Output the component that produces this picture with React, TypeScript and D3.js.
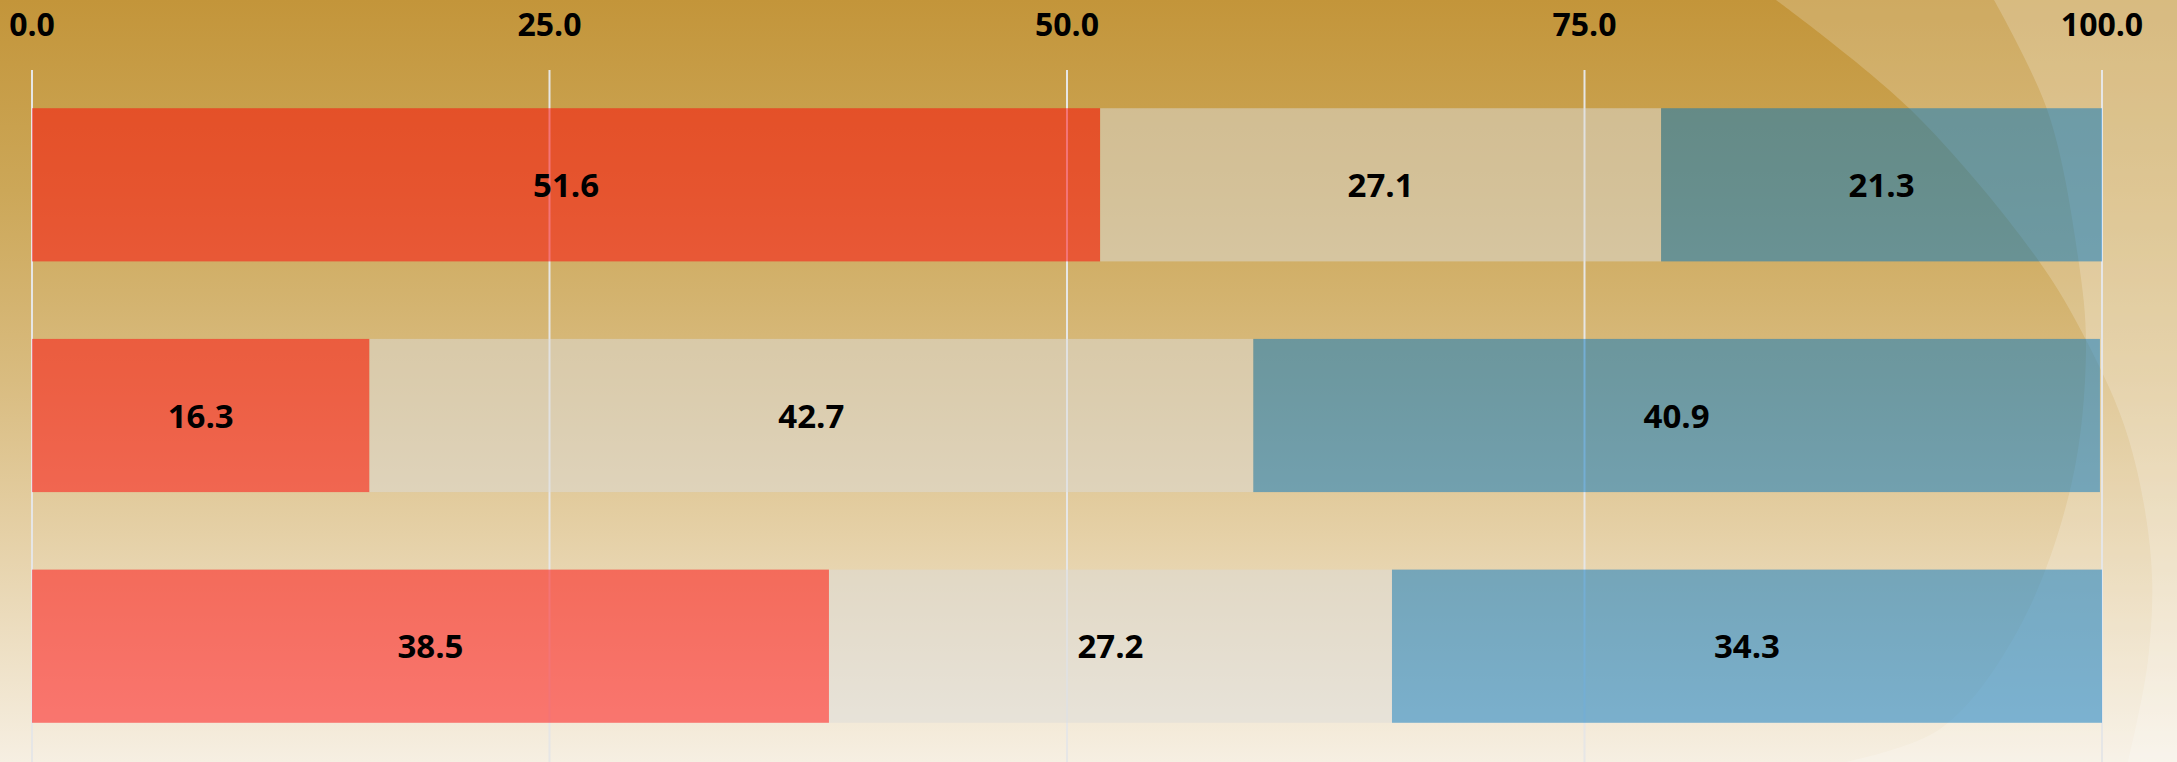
import React from "react";
import * as d3 from "d3";

const categories = ["Row 1", "Row 2", "Row 3"];
const seriesNames = ["Series A", "Series B", "Series C"];
const seriesA = [51.6, 16.3, 38.5];
const seriesB = [27.1, 42.7, 27.2];
const seriesC = [21.3, 40.9, 34.3];
const tickValues = [0, 25, 50, 75, 100];

const W = 2177;
const H = 762;

const seriesColors = ["#ff0206", "#dcdbd9", "#0275c2"];

export default function App() {
  const rows = categories.map((c, i) => ({
    cat: c,
    [seriesNames[0]]: seriesA[i],
    [seriesNames[1]]: seriesB[i],
    [seriesNames[2]]: seriesC[i],
  }));
  const stacked = d3.stack<any>().keys(seriesNames)(rows);

  const x = d3.scaleLinear().domain([0, 100]).range([32, 2102]);
  const y = d3
    .scaleBand<string>()
    .domain(categories)
    .range([69, 762])
    .paddingInner(0.336)
    .paddingOuter(0.17);

  const fmt = d3.format(".1f");

  const curve = d3.line().curve(d3.curveCatmullRom.alpha(0.5));
  const edgeOuter: [number, number][] = [
    [1776, 0], [1910, 109], [2036, 257], [2086, 340], [2128, 437], [2151, 559], [2148, 660], [2128, 762],
  ];
  const edgeInner: [number, number][] = [
    [1994, 0], [2048, 112], [2078, 257], [2086, 350], [2071, 486], [2017, 632], [1940, 729], [1845, 762],
  ];
  const shapeOuter = curve(edgeOuter) + ` L${W},${H} L${W},0 Z`;
  const shapeInner = curve(edgeInner) + ` L${W},${H} L${W},0 Z`;

  const font = "'Open Sans', Lato, sans-serif";
  const fs = 33;

  return (
    <svg
      width={W}
      height={H}
      style={{ position: "absolute", left: 0, top: 0, display: "block" }}
    >
      <defs>
        <linearGradient id="bg" x1="0" y1="0" x2="0" y2="1">
          <stop offset="0" stopColor="#c3953a" />
          <stop offset="0.25" stopColor="#cca758" />
          <stop offset="0.5" stopColor="#d9bc80" />
          <stop offset="0.7" stopColor="#e5d0a6" />
          <stop offset="1" stopColor="#f6efe2" />
        </linearGradient>
      </defs>
      <rect x={0} y={0} width={W} height={H} fill="url(#bg)" />
      <path d={shapeOuter} fill="#ffffff" opacity={0.2} />
      <path d={shapeInner} fill="#ffffff" opacity={0.2} />

      {/* grid lines */}
      {tickValues.map((t) => (
        <line
          key={"g" + t}
          x1={x(t)}
          x2={x(t)}
          y1={70}
          y2={H}
          stroke="#e6e6e6"
          strokeWidth={2}
        />
      ))}

      {/* bars */}
      {stacked.map((s, si) => (
        <g key={s.key} fill={seriesColors[si]} fillOpacity={0.5}>
          {s.map((d, i) => (
            <rect
              key={i}
              x={x(d[0])}
              y={y(categories[i])}
              width={x(d[1]) - x(d[0])}
              height={y.bandwidth()}
            />
          ))}
        </g>
      ))}

      {/* value labels */}
      {stacked.map((s) =>
        s.map((d, i) => (
          <text
            key={s.key + i}
            x={(x(d[0]) + x(d[1])) / 2}
            y={(y(categories[i]) as number) + y.bandwidth() / 2 + 12}
            textAnchor="middle"
            fontFamily={font}
            fontWeight="bold"
            fontSize={fs}
            fill="#000"
          >
            {fmt(d[1] - d[0])}
          </text>
        ))
      )}

      {/* axis labels */}
      {tickValues.map((t) => (
        <text
          key={"t" + t}
          x={x(t)}
          y={36}
          textAnchor="middle"
          fontFamily={font}
          fontWeight="bold"
          fontSize={32}
          fill="#000"
        >
          {fmt(t)}
        </text>
      ))}
    </svg>
  );
}
